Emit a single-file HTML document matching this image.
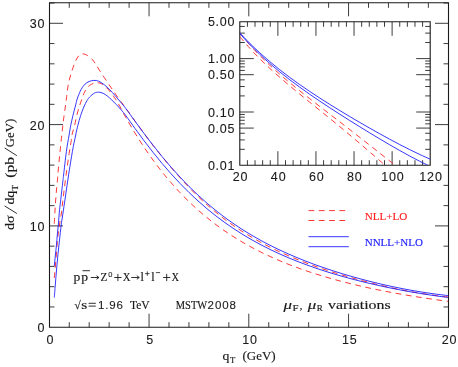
<!DOCTYPE html>
<html><head><meta charset="utf-8"><title>qT spectrum</title>
<style>html,body{margin:0;padding:0;background:#fff;}body{width:458px;height:367px;overflow:hidden;font-family:"Liberation Sans",sans-serif;}#wrap{width:458px;height:367px;will-change:transform;}svg{display:block;}</style></head>
<body>
<div id="wrap">
<svg width="458" height="367" viewBox="0 0 458 367">
<rect width="458" height="367" fill="#fff"/>
<path d="M49.5 2.8H448.5V327.2H49.5Z" fill="none" stroke="#1a1a1a" stroke-width="1.1"/>
<path d="M69.25 327.2v-5M69.25 2.8v5M89.2 327.2v-5M89.2 2.8v5M109.15 327.2v-5M109.15 2.8v5M129.1 327.2v-5M129.1 2.8v5M149.05 327.2v-13.5M149.05 2.8v13.5M169 327.2v-5M169 2.8v5M188.95 327.2v-5M188.95 2.8v5M208.9 327.2v-5M208.9 2.8v5M228.85 327.2v-5M228.85 2.8v5M248.8 327.2v-13.5M248.8 2.8v13.5M268.75 327.2v-5M268.75 2.8v5M288.7 327.2v-5M288.7 2.8v5M308.65 327.2v-5M308.65 2.8v5M328.6 327.2v-5M328.6 2.8v5M348.55 327.2v-13.5M348.55 2.8v13.5M368.5 327.2v-5M368.5 2.8v5M388.45 327.2v-5M388.45 2.8v5M408.4 327.2v-5M408.4 2.8v5M428.35 327.2v-5M428.35 2.8v5M49.5 306.94h5M448.5 306.94h-5M49.5 286.68h5M448.5 286.68h-5M49.5 266.42h5M448.5 266.42h-5M49.5 246.16h5M448.5 246.16h-5M49.5 225.9h13.5M448.5 225.9h-13.5M49.5 205.64h5M448.5 205.64h-5M49.5 185.38h5M448.5 185.38h-5M49.5 165.12h5M448.5 165.12h-5M49.5 144.86h5M448.5 144.86h-5M49.5 124.6h13.5M448.5 124.6h-13.5M49.5 104.34h5M448.5 104.34h-5M49.5 84.08h5M448.5 84.08h-5M49.5 63.82h5M448.5 63.82h-5M49.5 43.56h5M448.5 43.56h-5M49.5 23.3h13.5M448.5 23.3h-13.5M49.5 3.04h5M448.5 3.04h-5" fill="none" stroke="#1a1a1a" stroke-width="0.85"/>
<path d="M239.8 21.8H430.2V165.2H239.8Z" fill="none" stroke="#1a1a1a" stroke-width="1.1"/>
<path d="M247.42 165.2v-5M247.42 21.8v5M255.03 165.2v-5M255.03 21.8v5M262.65 165.2v-5M262.65 21.8v5M270.26 165.2v-5M270.26 21.8v5M277.88 165.2v-14M277.88 21.8v14M285.5 165.2v-5M285.5 21.8v5M293.11 165.2v-5M293.11 21.8v5M300.73 165.2v-5M300.73 21.8v5M308.34 165.2v-5M308.34 21.8v5M315.96 165.2v-14M315.96 21.8v14M323.58 165.2v-5M323.58 21.8v5M331.19 165.2v-5M331.19 21.8v5M338.81 165.2v-5M338.81 21.8v5M346.42 165.2v-5M346.42 21.8v5M354.04 165.2v-14M354.04 21.8v14M361.66 165.2v-5M361.66 21.8v5M369.27 165.2v-5M369.27 21.8v5M376.89 165.2v-5M376.89 21.8v5M384.5 165.2v-5M384.5 21.8v5M392.12 165.2v-14M392.12 21.8v14M399.74 165.2v-5M399.74 21.8v5M407.35 165.2v-5M407.35 21.8v5M414.97 165.2v-5M414.97 21.8v5M422.58 165.2v-5M422.58 21.8v5M239.8 149.32h5M430.2 149.32h-5M239.8 139.92h5M430.2 139.92h-5M239.8 133.25h5M430.2 133.25h-5M239.8 128.08h14M430.2 128.08h-14M239.8 123.85h5M430.2 123.85h-5M239.8 120.27h5M430.2 120.27h-5M239.8 117.17h5M430.2 117.17h-5M239.8 114.44h5M430.2 114.44h-5M239.8 112h14M430.2 112h-14M239.8 95.92h5M430.2 95.92h-5M239.8 86.52h5M430.2 86.52h-5M239.8 79.85h5M430.2 79.85h-5M239.8 74.68h14M430.2 74.68h-14M239.8 70.45h5M430.2 70.45h-5M239.8 66.87h5M430.2 66.87h-5M239.8 63.77h5M430.2 63.77h-5M239.8 61.04h5M430.2 61.04h-5M239.8 58.6h14M430.2 58.6h-14M239.8 42.52h5M430.2 42.52h-5M239.8 33.12h5M430.2 33.12h-5M239.8 26.45h5M430.2 26.45h-5" fill="none" stroke="#1a1a1a" stroke-width="0.85"/>
<clipPath id="cm"><rect x="49.5" y="2.8" width="399" height="324.4"/></clipPath>
<clipPath id="ci"><rect x="239.8" y="21.8" width="190.4" height="143.4"/></clipPath>
<g fill="none" stroke-width="0.9" clip-path="url(#cm)">
<path d="M54.3 223.7C54.4 221.77 54.68 215.88 54.9 212.1C55.12 208.32 55.33 204.68 55.6 201C55.87 197.32 56.17 193.78 56.5 190C56.83 186.22 57.32 181.47 57.6 178.3C57.88 175.13 57.92 174.22 58.2 171C58.48 167.78 58.93 162.82 59.3 159C59.67 155.18 59.98 152.1 60.4 148.1C60.82 144.1 61.42 138.52 61.8 135C62.18 131.48 62.4 129.67 62.7 127C63 124.33 63.17 122.33 63.6 119C64.03 115.67 64.78 110.75 65.3 107C65.82 103.25 66.23 100.1 66.7 96.5C67.17 92.9 67.43 89 68.1 85.4C68.77 81.8 69.6 78.62 70.7 74.9C71.8 71.18 73.38 66.27 74.7 63.1C76.02 59.93 77.3 57.43 78.6 55.9C79.9 54.37 81.18 54.05 82.5 53.9C83.82 53.75 84.97 54.18 86.5 55C88.03 55.82 90.2 57.33 91.7 58.8C93.2 60.27 94.23 61.93 95.5 63.8C96.77 65.67 97.85 67.73 99.3 70C100.75 72.27 102.57 74.95 104.2 77.4C105.83 79.85 107.65 82.57 109.1 84.7C110.55 86.83 111.63 88.35 112.9 90.2C114.17 92.05 115.23 93.73 116.7 95.8C118.17 97.87 120.15 100.49 121.7 102.6C123.25 104.71 123.78 105.35 126 108.43C128.22 111.51 132 116.93 135 121.09C138 125.25 141 129.37 144 133.4C147 137.43 150 141.41 153 145.28C156 149.15 159 152.94 162 156.62C165 160.3 168 163.86 171 167.36C174 170.86 177 174.29 180 177.63C183 180.97 186 184.26 189 187.4C192 190.54 195 193.58 198 196.47C201 199.36 204 202.08 207 204.73C210 207.39 213 209.94 216 212.4C219 214.87 222 217.27 225 219.53C228 221.8 231 223.94 234 226.01C237 228.08 240 230.04 243 231.94C246 233.84 249 235.67 252 237.43C255 239.2 258 240.9 261 242.52C264 244.15 267 245.69 270 247.19C273 248.69 276 250.14 279 251.53C282 252.93 285 254.28 288 255.58C291 256.89 294 258.14 297 259.36C300 260.58 303 261.75 306 262.89C309 264.04 312 265.14 315 266.21C318 267.28 321 268.31 324 269.32C327 270.32 330 271.29 333 272.24C336 273.19 339 274.1 342 274.99C345 275.88 348 276.73 351 277.59C354 278.44 357 279.3 360 280.11C363 280.93 366 281.72 369 282.49C372 283.26 375 284 378 284.72C381 285.44 384 286.14 387 286.81C390 287.48 393 288.13 396 288.75C399 289.37 402 289.96 405 290.53C408 291.1 411 291.65 414 292.17C417 292.69 420 293.19 423 293.65C426 294.12 429 294.57 432 294.98C435 295.4 438.25 295.82 441 296.15C443.75 296.49 447.25 296.86 448.5 297" stroke="#ff2020" stroke-dasharray="5.8 4.5"/>
<path d="M54.3 278C54.45 276.33 54.87 271.83 55.2 268C55.53 264.17 55.92 259.67 56.3 255C56.68 250.33 57.05 244.5 57.5 240C57.95 235.5 58.33 232.67 59 228C59.67 223.33 60.75 217.5 61.5 212C62.25 206.5 62.73 201.17 63.5 195C64.27 188.83 65.17 181.9 66.1 175C67.03 168.1 68.23 159.35 69.1 153.6C69.97 147.85 70.75 143.9 71.3 140.5C71.85 137.1 71.85 135.68 72.4 133.2C72.95 130.72 73.88 128.52 74.6 125.6C75.32 122.68 75.88 118.98 76.7 115.7C77.52 112.42 78.58 108.8 79.5 105.9C80.42 103 81.48 100.35 82.2 98.3C82.92 96.25 83.08 95.2 83.8 93.6C84.52 92 85.52 90.08 86.5 88.7C87.48 87.32 88.37 86.23 89.7 85.3C91.03 84.37 93.08 83.52 94.5 83.1C95.92 82.68 96.95 82.67 98.2 82.8C99.45 82.93 100.63 83.12 102 83.9C103.37 84.68 104.95 86.08 106.4 87.5C107.85 88.92 109.33 90.68 110.7 92.4C112.07 94.12 113.5 96.2 114.6 97.8C115.7 99.4 116.22 100.2 117.3 102C118.38 103.8 119.65 105.97 121.1 108.6C122.55 111.23 123.68 113.69 126 117.77C128.32 121.85 132 128.19 135 133.08C138 137.97 141 142.64 144 147.13C147 151.63 150 155.91 153 160.02C156 164.14 159 168.07 162 171.84C165 175.61 168 179.21 171 182.66C174 186.12 177 189.41 180 192.58C183 195.75 186 198.77 189 201.67C192 204.57 195 207.34 198 210C201 212.66 204 215.2 207 217.64C210 220.09 213 222.41 216 224.66C219 226.9 222 229.04 225 231.1C228 233.16 231 235.13 234 237.03C237 238.93 240 240.74 243 242.49C246 244.23 249 245.9 252 247.52C255 249.13 258 250.67 261 252.16C264 253.65 267 255.08 270 256.46C273 257.84 276 259.16 279 260.44C282 261.71 285 262.94 288 264.13C291 265.31 294 266.45 297 267.55C300 268.66 303 269.72 306 270.74C309 271.77 312 272.76 315 273.72C318 274.67 321 275.6 324 276.49C327 277.39 330 278.25 333 279.09C336 279.93 339 280.73 342 281.52C345 282.3 348 283.06 351 283.8C354 284.54 357 285.25 360 285.94C363 286.63 366 287.3 369 287.95C372 288.6 375 289.23 378 289.85C381 290.46 384 291.05 387 291.63C390 292.21 393 292.77 396 293.31C399 293.86 402 294.38 405 294.9C408 295.41 411 295.91 414 296.39C417 296.88 420 297.35 423 297.8C426 298.26 429 298.7 432 299.13C435 299.56 438.25 300.01 441 300.39C443.75 300.76 447.25 301.21 448.5 301.37" stroke="#ff2020" stroke-dasharray="5.8 4.5"/>
<path d="M54.3 266C54.48 264.17 55.05 258.42 55.4 255C55.75 251.58 56.07 249 56.4 245.5C56.73 242 57.05 237.75 57.4 234C57.75 230.25 58.18 226.65 58.5 223C58.82 219.35 58.97 215.63 59.3 212.1C59.63 208.57 59.9 206.98 60.5 201.8C61.1 196.62 62.38 185.47 62.9 181C63.42 176.53 63.02 179.93 63.6 175C64.18 170.07 65.48 158.07 66.4 151.4C67.32 144.73 68.38 139.3 69.1 135C69.82 130.7 70.07 128.82 70.7 125.6C71.33 122.38 72.07 119.17 72.9 115.7C73.73 112.23 74.93 107.75 75.7 104.8C76.47 101.85 76.58 100.58 77.5 98C78.42 95.42 79.93 91.62 81.2 89.3C82.47 86.98 83.78 85.4 85.1 84.1C86.42 82.8 87.65 82.12 89.1 81.5C90.55 80.88 92.2 80.45 93.8 80.4C95.4 80.35 96.97 80.48 98.7 81.2C100.43 81.92 102.37 83.28 104.2 84.7C106.03 86.12 107.88 87.88 109.7 89.7C111.52 91.52 113.28 93.53 115.1 95.6C116.92 97.67 118.78 99.91 120.6 102.1C122.42 104.29 123.6 105.56 126 108.75C128.4 111.94 132 117.12 135 121.23C138 125.35 141 129.45 144 133.45C147 137.44 150 141.39 153 145.23C156 149.06 159 152.82 162 156.47C165 160.11 168 163.67 171 167.1C174 170.54 177 173.87 180 177.1C183 180.32 186 183.43 189 186.44C192 189.44 195 192.34 198 195.13C201 197.92 204 200.61 207 203.2C210 205.79 213 208.28 216 210.68C219 213.08 222 215.38 225 217.6C228 219.82 231 221.95 234 224.01C237 226.07 240 228.04 243 229.94C246 231.84 249 233.67 252 235.43C255 237.2 258 238.89 261 240.53C264 242.17 267 243.74 270 245.27C273 246.79 276 248.26 279 249.68C282 251.1 285 252.46 288 253.79C291 255.12 294 256.4 297 257.64C300 258.88 303 260.08 306 261.24C309 262.41 312 263.53 315 264.63C318 265.72 321 266.78 324 267.81C327 268.84 330 269.83 333 270.8C336 271.77 339 272.71 342 273.63C345 274.54 348 275.43 351 276.29C354 277.15 357 277.98 360 278.79C363 279.6 366 280.39 369 281.15C372 281.91 375 282.64 378 283.36C381 284.07 384 284.76 387 285.43C390 286.09 393 286.73 396 287.35C399 287.97 402 288.56 405 289.13C408 289.7 411 290.25 414 290.77C417 291.29 420 291.79 423 292.25C426 292.72 429 293.17 432 293.58C435 294 438.25 294.42 441 294.75C443.75 295.09 447.25 295.46 448.5 295.6" stroke="#2020ff"/>
<path d="M54.3 297.6C54.47 295.5 54.93 289.6 55.3 285C55.67 280.4 56.07 275 56.5 270C56.93 265 57.4 260 57.9 255C58.4 250 58.95 245 59.5 240C60.05 235 60.67 229.17 61.2 225C61.73 220.83 61.98 219.83 62.7 215C63.42 210.17 64.52 202.67 65.5 196C66.48 189.33 67.45 182.43 68.6 175C69.75 167.57 71.22 158.07 72.4 151.4C73.58 144.73 74.8 139.3 75.7 135C76.6 130.7 76.98 128.82 77.8 125.6C78.62 122.38 79.6 118.8 80.6 115.7C81.6 112.6 82.72 109.53 83.8 107C84.88 104.47 86.12 102.17 87.1 100.5C88.08 98.83 88.48 98.23 89.7 97C90.92 95.77 92.9 93.9 94.4 93.1C95.9 92.3 97.25 92.17 98.7 92.2C100.15 92.23 101.63 92.63 103.1 93.3C104.57 93.97 106.05 95.08 107.5 96.2C108.95 97.32 110.35 98.63 111.8 100C113.25 101.37 114.65 102.77 116.2 104.4C117.75 106.03 119.47 107.9 121.1 109.8C122.73 111.7 123.68 112.7 126 115.82C128.32 118.93 132 124.33 135 128.47C138 132.61 141 136.69 144 140.66C147 144.63 150 148.52 153 152.3C156 156.08 159 159.76 162 163.33C165 166.89 168 170.36 171 173.71C174 177.06 177 180.29 180 183.43C183 186.56 186 189.58 189 192.49C192 195.41 195 198.22 198 200.93C201 203.64 204 206.24 207 208.75C210 211.26 213 213.67 216 216C219 218.32 222 220.55 225 222.7C228 224.85 231 226.91 234 228.9C237 230.89 240 232.8 243 234.64C246 236.48 249 238.25 252 239.95C255 241.66 258 243.29 261 244.87C264 246.45 267 247.96 270 249.43C273 250.89 276 252.3 279 253.66C282 255.02 285 256.32 288 257.59C291 258.86 294 260.07 297 261.25C300 262.43 303 263.57 306 264.67C309 265.77 312 266.83 315 267.87C318 268.9 321 269.89 324 270.86C327 271.82 330 272.75 333 273.66C336 274.57 339 275.44 342 276.29C345 277.14 348 277.97 351 278.77C354 279.57 357 280.34 360 281.09C363 281.85 366 282.58 369 283.28C372 283.99 375 284.68 378 285.35C381 286.01 384 286.66 387 287.29C390 287.91 393 288.52 396 289.11C399 289.7 402 290.26 405 290.82C408 291.37 411 291.9 414 292.41C417 292.93 420 293.42 423 293.9C426 294.38 429 294.84 432 295.28C435 295.72 438.25 296.18 441 296.55C443.75 296.92 447.25 297.36 448.5 297.52" stroke="#2020ff"/>
</g>
<g fill="none" stroke-width="0.9" clip-path="url(#ci)">
<path d="M239.8 33.27C241.47 35.21 246.47 41.22 249.8 44.93C253.13 48.63 256.47 52.12 259.8 55.5C263.13 58.88 266.47 62.08 269.8 65.2C273.13 68.32 276.47 71.29 279.8 74.21C283.13 77.13 286.47 79.94 289.8 82.71C293.13 85.48 296.47 88.17 299.8 90.84C303.13 93.51 306.47 96.12 309.8 98.73C313.13 101.33 316.47 103.9 319.8 106.47C323.13 109.05 326.47 111.6 329.8 114.17C333.13 116.73 336.47 119.29 339.8 121.86C343.13 124.44 346.47 127.01 349.8 129.61C353.13 132.2 356.47 134.8 359.8 137.41C363.13 140.02 366.47 142.64 369.8 145.27C373.13 147.9 376.47 150.53 379.8 153.16C383.13 155.79 387.3 159.08 389.8 161.04C392.3 163.01 393.97 164.3 394.8 164.95" stroke="#ff2020" stroke-dasharray="5.8 4.5"/>
<path d="M239.8 36.66C241.47 38.59 246.47 44.56 249.8 48.24C253.13 51.91 256.47 55.37 259.8 58.72C263.13 62.07 266.47 65.25 269.8 68.36C273.13 71.46 276.47 74.43 279.8 77.35C283.13 80.28 286.47 83.1 289.8 85.9C293.13 88.71 296.47 91.44 299.8 94.17C303.13 96.9 306.47 99.58 309.8 102.28C313.13 104.98 316.47 107.65 319.8 110.35C323.13 113.05 326.47 115.74 329.8 118.46C333.13 121.18 336.47 123.91 339.8 126.67C343.13 129.42 346.47 132.2 349.8 135C353.13 137.8 356.47 140.62 359.8 143.46C363.13 146.3 366.47 149.17 369.8 152.03C373.13 154.9 377.23 158.45 379.8 160.66C382.37 162.88 384.3 164.54 385.2 165.32" stroke="#ff2020" stroke-dasharray="5.8 4.5"/>
<path d="M239.8 32.93C241.47 34.66 246.47 40 249.8 43.32C253.13 46.64 256.47 49.8 259.8 52.85C263.13 55.9 266.47 58.81 269.8 61.63C273.13 64.46 276.47 67.16 279.8 69.79C283.13 72.43 286.47 74.96 289.8 77.43C293.13 79.91 296.47 82.3 299.8 84.64C303.13 86.98 306.47 89.26 309.8 91.49C313.13 93.73 316.47 95.91 319.8 98.07C323.13 100.22 326.47 102.32 329.8 104.41C333.13 106.49 336.47 108.54 339.8 110.57C343.13 112.59 346.47 114.59 349.8 116.57C353.13 118.55 356.47 120.51 359.8 122.44C363.13 124.38 366.47 126.3 369.8 128.19C373.13 130.09 376.47 131.96 379.8 133.81C383.13 135.66 386.47 137.49 389.8 139.28C393.13 141.08 396.47 142.85 399.8 144.58C403.13 146.31 406.47 148.02 409.8 149.67C413.13 151.32 416.47 152.94 419.8 154.49C423.13 156.05 428.07 158.21 429.8 158.99C431.53 159.77 430.13 159.13 430.2 159.16" stroke="#2020ff"/>
<path d="M239.8 33.61C241.47 35.41 246.47 40.99 249.8 44.45C253.13 47.91 256.47 51.19 259.8 54.35C263.13 57.52 266.47 60.53 269.8 63.46C273.13 66.38 276.47 69.17 279.8 71.89C283.13 74.61 286.47 77.23 289.8 79.78C293.13 82.34 296.47 84.81 299.8 87.23C303.13 89.66 306.47 92.01 309.8 94.33C313.13 96.65 316.47 98.92 319.8 101.16C323.13 103.4 326.47 105.6 329.8 107.78C333.13 109.96 336.47 112.1 339.8 114.24C343.13 116.37 346.47 118.47 349.8 120.57C353.13 122.66 356.47 124.73 359.8 126.79C363.13 128.85 366.47 130.89 369.8 132.92C373.13 134.94 376.47 136.95 379.8 138.94C383.13 140.92 386.47 142.89 389.8 144.83C393.13 146.76 396.47 148.68 399.8 150.55C403.13 152.43 406.47 154.28 409.8 156.07C413.13 157.86 416.83 159.79 419.8 161.3C422.77 162.81 426.3 164.5 427.6 165.14" stroke="#2020ff"/>
</g>
<g fill="none" stroke-width="0.9">
<path d="M308.5 210.6H345.5M308.5 220.5H345.5" stroke="#ff2020" stroke-dasharray="5.8 4.5"/>
<path d="M308.5 236.7H348.8M308.5 246.7H348.8" stroke="#2020ff"/>
</g>
<text x="45.4" y="332.2" font-family="Liberation Sans, sans-serif" font-size="12.5" letter-spacing="0.9" text-anchor="end" fill="#1a1a1a" stroke="#1a1a1a" stroke-width="0.1">0</text>
<text x="45.4" y="230.9" font-family="Liberation Sans, sans-serif" font-size="12.5" letter-spacing="0.9" text-anchor="end" fill="#1a1a1a" stroke="#1a1a1a" stroke-width="0.1">10</text>
<text x="45.4" y="129.6" font-family="Liberation Sans, sans-serif" font-size="12.5" letter-spacing="0.9" text-anchor="end" fill="#1a1a1a" stroke="#1a1a1a" stroke-width="0.1">20</text>
<text x="45.4" y="28.3" font-family="Liberation Sans, sans-serif" font-size="12.5" letter-spacing="0.9" text-anchor="end" fill="#1a1a1a" stroke="#1a1a1a" stroke-width="0.1">30</text>
<text x="50.5" y="343.7" font-family="Liberation Sans, sans-serif" font-size="12.5" letter-spacing="0.9" text-anchor="middle" fill="#1a1a1a" stroke="#1a1a1a" stroke-width="0.1">0</text>
<text x="150.25" y="343.7" font-family="Liberation Sans, sans-serif" font-size="12.5" letter-spacing="0.9" text-anchor="middle" fill="#1a1a1a" stroke="#1a1a1a" stroke-width="0.1">5</text>
<text x="250" y="343.7" font-family="Liberation Sans, sans-serif" font-size="12.5" letter-spacing="0.9" text-anchor="middle" fill="#1a1a1a" stroke="#1a1a1a" stroke-width="0.1">10</text>
<text x="349.75" y="343.7" font-family="Liberation Sans, sans-serif" font-size="12.5" letter-spacing="0.9" text-anchor="middle" fill="#1a1a1a" stroke="#1a1a1a" stroke-width="0.1">15</text>
<text x="449.5" y="343.7" font-family="Liberation Sans, sans-serif" font-size="12.5" letter-spacing="0.9" text-anchor="middle" fill="#1a1a1a" stroke="#1a1a1a" stroke-width="0.1">20</text>
<text x="235.1" y="26.08" font-family="Liberation Sans, sans-serif" font-size="12.5" letter-spacing="0.7" text-anchor="end" fill="#1a1a1a" stroke="#1a1a1a" stroke-width="0.1">5.00</text>
<text x="235.1" y="63.4" font-family="Liberation Sans, sans-serif" font-size="12.5" letter-spacing="0.7" text-anchor="end" fill="#1a1a1a" stroke="#1a1a1a" stroke-width="0.1">1.00</text>
<text x="235.1" y="79.48" font-family="Liberation Sans, sans-serif" font-size="12.5" letter-spacing="0.7" text-anchor="end" fill="#1a1a1a" stroke="#1a1a1a" stroke-width="0.1">0.50</text>
<text x="235.1" y="116.8" font-family="Liberation Sans, sans-serif" font-size="12.5" letter-spacing="0.7" text-anchor="end" fill="#1a1a1a" stroke="#1a1a1a" stroke-width="0.1">0.10</text>
<text x="235.1" y="132.88" font-family="Liberation Sans, sans-serif" font-size="12.5" letter-spacing="0.7" text-anchor="end" fill="#1a1a1a" stroke="#1a1a1a" stroke-width="0.1">0.05</text>
<text x="235.1" y="170.2" font-family="Liberation Sans, sans-serif" font-size="12.5" letter-spacing="0.7" text-anchor="end" fill="#1a1a1a" stroke="#1a1a1a" stroke-width="0.1">0.01</text>
<text x="240.6" y="181.4" font-family="Liberation Sans, sans-serif" font-size="12.5" letter-spacing="0.9" text-anchor="middle" fill="#1a1a1a" stroke="#1a1a1a" stroke-width="0.1">20</text>
<text x="278.68" y="181.4" font-family="Liberation Sans, sans-serif" font-size="12.5" letter-spacing="0.9" text-anchor="middle" fill="#1a1a1a" stroke="#1a1a1a" stroke-width="0.1">40</text>
<text x="316.76" y="181.4" font-family="Liberation Sans, sans-serif" font-size="12.5" letter-spacing="0.9" text-anchor="middle" fill="#1a1a1a" stroke="#1a1a1a" stroke-width="0.1">60</text>
<text x="354.84" y="181.4" font-family="Liberation Sans, sans-serif" font-size="12.5" letter-spacing="0.9" text-anchor="middle" fill="#1a1a1a" stroke="#1a1a1a" stroke-width="0.1">80</text>
<text x="392.92" y="181.4" font-family="Liberation Sans, sans-serif" font-size="12.5" letter-spacing="0.9" text-anchor="middle" fill="#1a1a1a" stroke="#1a1a1a" stroke-width="0.1">100</text>
<text x="431" y="181.4" font-family="Liberation Sans, sans-serif" font-size="12.5" letter-spacing="0.9" text-anchor="middle" fill="#1a1a1a" stroke="#1a1a1a" stroke-width="0.1">120</text>
<text x="364.7" y="220.2" font-family="Liberation Serif, serif" font-size="11" textLength="42.6" lengthAdjust="spacingAndGlyphs" fill="#ff2020" stroke="#ff2020" stroke-width="0.15" >NLL+LO</text>
<text x="364.7" y="245.6" font-family="Liberation Serif, serif" font-size="11" textLength="58.2" lengthAdjust="spacingAndGlyphs" fill="#2020ff" stroke="#2020ff" stroke-width="0.15" >NNLL+NLO</text>
<text x="283.6" y="308.6" font-family="Liberation Serif, serif" font-size="11.5" textLength="8.5" lengthAdjust="spacingAndGlyphs" fill="#1a1a1a" stroke="#1a1a1a" stroke-width="0.15" font-style="italic">&#956;</text>
<text x="292.6" y="311.2" font-family="Liberation Serif, serif" font-size="8" textLength="6" lengthAdjust="spacingAndGlyphs" fill="#1a1a1a" stroke="#1a1a1a" stroke-width="0.15" >F</text>
<text x="299.4" y="308.6" font-family="Liberation Serif, serif" font-size="11" textLength="3" lengthAdjust="spacingAndGlyphs" fill="#1a1a1a" stroke="#1a1a1a" stroke-width="0.15" >,</text>
<text x="307.8" y="308.6" font-family="Liberation Serif, serif" font-size="11.5" textLength="8.5" lengthAdjust="spacingAndGlyphs" fill="#1a1a1a" stroke="#1a1a1a" stroke-width="0.15" font-style="italic">&#956;</text>
<text x="316.8" y="311.2" font-family="Liberation Serif, serif" font-size="8" textLength="6" lengthAdjust="spacingAndGlyphs" fill="#1a1a1a" stroke="#1a1a1a" stroke-width="0.15" >R</text>
<text x="328" y="308.6" font-family="Liberation Serif, serif" font-size="11.5" textLength="62.6" lengthAdjust="spacingAndGlyphs" fill="#1a1a1a" stroke="#1a1a1a" stroke-width="0.15" >variations</text>
<text x="74.2" y="308.6" font-family="Liberation Serif, serif" font-size="11.5" textLength="6.5" lengthAdjust="spacingAndGlyphs" fill="#1a1a1a" stroke="#1a1a1a" stroke-width="0.15" >&#8730;</text>
<text x="81.2" y="308.6" font-family="Liberation Serif, serif" font-size="11.5" textLength="6" lengthAdjust="spacingAndGlyphs" fill="#1a1a1a" stroke="#1a1a1a" stroke-width="0.15" >s</text>
<path d="M88.6 303.3h7.2M88.6 306.1h7.2" stroke="#1a1a1a" stroke-width="0.9" fill="none"/>
<text x="98" y="308.6" font-family="Liberation Sans, sans-serif" font-size="11.5" letter-spacing="0.8" text-anchor="start" fill="#1a1a1a" stroke="#1a1a1a" stroke-width="0.1">1.96</text>
<text x="129.9" y="308.6" font-family="Liberation Serif, serif" font-size="11.5" textLength="19.8" lengthAdjust="spacingAndGlyphs" fill="#1a1a1a" stroke="#1a1a1a" stroke-width="0.15" >TeV</text>
<text x="175.8" y="308.6" font-family="Liberation Serif, serif" font-size="11.5" textLength="31.4" lengthAdjust="spacingAndGlyphs" fill="#1a1a1a" stroke="#1a1a1a" stroke-width="0.15" >MSTW</text>
<text x="207.6" y="308.6" font-family="Liberation Sans, sans-serif" font-size="11.5" letter-spacing="0.9" text-anchor="start" fill="#1a1a1a" stroke="#1a1a1a" stroke-width="0.1">2008</text>
<text x="73.5" y="281" font-family="Liberation Serif, serif" font-size="11.5" textLength="6.8" lengthAdjust="spacingAndGlyphs" fill="#1a1a1a" stroke="#1a1a1a" stroke-width="0.15" >p</text>
<text x="81.2" y="281" font-family="Liberation Serif, serif" font-size="11.5" textLength="6.8" lengthAdjust="spacingAndGlyphs" fill="#1a1a1a" stroke="#1a1a1a" stroke-width="0.15" >p</text>
<path d="M82.5 270.7H89.9" stroke="#1a1a1a" stroke-width="0.9" fill="none"/>
<path d="M90.8 277.5H98.9M96.5 275.7L98.9 277.5L96.5 279.3" stroke="#1a1a1a" stroke-width="0.9" fill="none"/>
<text x="100.4" y="281" font-family="Liberation Serif, serif" font-size="11.5" textLength="6.8" lengthAdjust="spacingAndGlyphs" fill="#1a1a1a" stroke="#1a1a1a" stroke-width="0.15" >Z</text>
<text x="108.3" y="277" font-family="Liberation Sans, sans-serif" font-size="7.5" letter-spacing="0" text-anchor="start" fill="#1a1a1a" stroke="#1a1a1a" stroke-width="0.1">0</text>
<path d="M114.3 277.5h7.2M117.9 273.9v7.2" stroke="#1a1a1a" stroke-width="0.9" fill="none"/>
<text x="122.7" y="281" font-family="Liberation Serif, serif" font-size="11.5" textLength="7.8" lengthAdjust="spacingAndGlyphs" fill="#1a1a1a" stroke="#1a1a1a" stroke-width="0.15" >X</text>
<path d="M131.2 277.5H139.2M136.8 275.7L139.2 277.5L136.8 279.3" stroke="#1a1a1a" stroke-width="0.9" fill="none"/>
<text x="140.5" y="281" font-family="Liberation Serif, serif" font-size="11.5" textLength="3.4" lengthAdjust="spacingAndGlyphs" fill="#1a1a1a" stroke="#1a1a1a" stroke-width="0.15" >l</text>
<path d="M145.1 273.6h4.4M147.3 271.4v4.4" stroke="#1a1a1a" stroke-width="0.8" fill="none"/>
<text x="151.2" y="281" font-family="Liberation Serif, serif" font-size="11.5" textLength="3.4" lengthAdjust="spacingAndGlyphs" fill="#1a1a1a" stroke="#1a1a1a" stroke-width="0.15" >l</text>
<path d="M155.9 272.6h4.2" stroke="#1a1a1a" stroke-width="0.8" fill="none"/>
<path d="M163.1 277.5h7.2M166.7 273.9v7.2" stroke="#1a1a1a" stroke-width="0.9" fill="none"/>
<text x="171.4" y="281" font-family="Liberation Serif, serif" font-size="11.5" textLength="7.6" lengthAdjust="spacingAndGlyphs" fill="#1a1a1a" stroke="#1a1a1a" stroke-width="0.15" >X</text>
<text x="222.6" y="360.4" font-family="Liberation Serif, serif" font-size="13" textLength="6.9" lengthAdjust="spacingAndGlyphs" fill="#1a1a1a" stroke="#1a1a1a" stroke-width="0.15" >q</text>
<text x="230" y="362.8" font-family="Liberation Serif, serif" font-size="8" textLength="5.3" lengthAdjust="spacingAndGlyphs" fill="#1a1a1a" stroke="#1a1a1a" stroke-width="0.15" >T</text>
<text x="242.5" y="360.4" font-family="Liberation Serif, serif" font-size="13" textLength="33.2" lengthAdjust="spacingAndGlyphs" fill="#1a1a1a" stroke="#1a1a1a" stroke-width="0.15" >(GeV)</text>
<g transform="translate(14.2 230.1) rotate(-90)">
<text x="0" y="0" font-family="Liberation Serif, serif" font-size="13" textLength="14.7" lengthAdjust="spacingAndGlyphs" fill="#1a1a1a" stroke="#1a1a1a" stroke-width="0.15" >d&#963;</text>
<path d="M16.6 2.7L24.2 -9.6M74.4 2.7L82.2 -9.6" stroke="#1a1a1a" stroke-width="0.9" fill="none"/>
<text x="25.5" y="0" font-family="Liberation Serif, serif" font-size="13" textLength="13.7" lengthAdjust="spacingAndGlyphs" fill="#1a1a1a" stroke="#1a1a1a" stroke-width="0.15" >dq</text>
<text x="39.7" y="3.3" font-family="Liberation Serif, serif" font-size="8" textLength="5.5" lengthAdjust="spacingAndGlyphs" fill="#1a1a1a" stroke="#1a1a1a" stroke-width="0.15" >T</text>
<text x="52.3" y="0" font-family="Liberation Serif, serif" font-size="13" textLength="20.8" lengthAdjust="spacingAndGlyphs" fill="#1a1a1a" stroke="#1a1a1a" stroke-width="0.15" >(pb</text>
<text x="82.9" y="0" font-family="Liberation Serif, serif" font-size="13" textLength="28.4" lengthAdjust="spacingAndGlyphs" fill="#1a1a1a" stroke="#1a1a1a" stroke-width="0.15" >GeV)</text>
</g>
</svg>
</div>
</body></html>
